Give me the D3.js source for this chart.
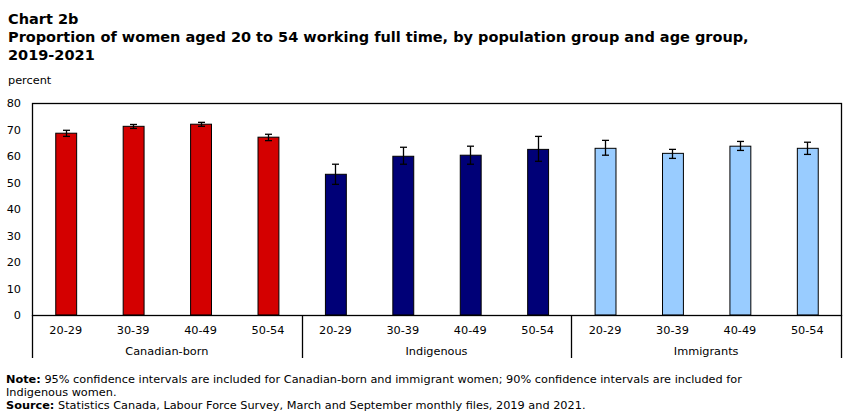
<!DOCTYPE html>
<html>
<head>
<meta charset="utf-8">
<script src="https://cdn.jsdelivr.net/npm/d3@7"></script>
<style>
  body { margin: 0; background: #fff; }
  svg { display: block; font-family: "DejaVu Sans", Verdana, sans-serif; }
</style>
</head>
<body>
<svg id="chart" width="851" height="417"></svg>
<script>
const groups = ["Canadian-born", "Indigenous", "Immigrants"];
const ages = ["20-29", "30-39", "40-49", "50-54"];
const groupColors = ["#d40000", "#000077", "#99ccff"];

// percent, in order of group then age group
const values = [68.6, 71.2, 72.0, 67.1, 53.1, 59.9, 60.3, 62.5, 62.9, 61.0, 63.7, 62.9];
const lower = [67.4, 70.4, 71.2, 65.8, 49.3, 56.9, 56.9, 58.0, 60.3, 59.1, 62.1, 60.6];
const upper = [69.7, 71.9, 72.7, 68.2, 56.9, 63.3, 63.7, 67.4, 65.9, 62.5, 65.5, 65.2];
const yTicks = [0, 10, 20, 30, 40, 50, 60, 70, 80];

const svg = d3.select("#chart");

const plotLeft = 32, plotRight = 841, plotTop = 103, plotBottom = 315;
const smallFont = 11.3;

const rows = [];
groups.forEach((g, gi) => {
    ages.forEach((a, ai) => {
        const i = gi * ages.length + ai;
        rows.push({ key: g + "|" + a, group: g, gi: gi, age: a, value: values[i], lo: lower[i], hi: upper[i] });
    });
});

const x = d3.scaleBand()
    .domain(rows.map(d => d.key))
    .range([plotLeft, plotRight])
    .paddingInner(0.69)
    .paddingOuter(0.345);

const y = d3.scaleLinear().domain([0, 80]).range([plotBottom, plotTop]);

// titles
const title = svg.append("g").attr("font-weight", "bold").attr("font-size", 14.5).attr("fill", "#000");
title.append("text").attr("x", 8).attr("y", 24).text("Chart 2b");
title.append("text").attr("x", 8).attr("y", 42)
    .text("Proportion of women aged 20 to 54 working full time, by population group and age group,");
title.append("text").attr("x", 8).attr("y", 59.5).text("2019-2021");

svg.append("text")
    .attr("x", 8).attr("y", 84)
    .attr("font-size", smallFont)
    .text("percent");

// y axis labels
svg.append("g")
    .selectAll("text")
    .data(yTicks)
    .join("text")
    .attr("x", 21)
    .attr("y", d => y(d) + 4)
    .attr("text-anchor", "end")
    .attr("font-size", smallFont)
    .text(d => d);

// bars
svg.append("g")
    .selectAll("rect")
    .data(rows)
    .join("rect")
    .attr("x", d => x(d.key) + 0.5)
    .attr("y", d => y(d.value))
    .attr("width", x.bandwidth())
    .attr("height", d => y(0) - y(d.value))
    .attr("fill", d => groupColors[d.gi])
    .attr("stroke", "#000")
    .attr("stroke-width", 1);

// error bars
const err = svg.append("g").attr("stroke", "#000").attr("stroke-width", 1.3);
rows.forEach(d => {
    const cx = Math.round(x(d.key) + x.bandwidth() / 2) + 0.5;
    err.append("line").attr("x1", cx).attr("x2", cx).attr("y1", y(d.hi)).attr("y2", y(d.lo));
    err.append("line").attr("x1", cx - 3.5).attr("x2", cx + 3.5).attr("y1", y(d.hi)).attr("y2", y(d.hi));
    err.append("line").attr("x1", cx - 3.5).attr("x2", cx + 3.5).attr("y1", y(d.lo)).attr("y2", y(d.lo));
});

// frame
const frame = svg.append("g").attr("stroke", "#000").attr("stroke-width", 1.3).attr("fill", "none");
frame.append("rect")
    .attr("x", plotLeft + 0.5).attr("y", plotTop + 0.5)
    .attr("width", plotRight - plotLeft).attr("height", plotBottom - plotTop);

// group separators, extending below the axis
const sepBottom = 358;
const groupEdges = groups.map((g, gi) => x(g + "|" + ages[0]) - x.step() * 0.345);
groupEdges.push(plotRight);
frame.selectAll("line.sep")
    .data(groupEdges)
    .join("line")
    .attr("class", "sep")
    .attr("x1", d => Math.round(d) + 0.5).attr("x2", d => Math.round(d) + 0.5)
    .attr("y1", plotBottom).attr("y2", sepBottom);

// category labels
svg.append("g")
    .selectAll("text")
    .data(rows)
    .join("text")
    .attr("x", d => x(d.key) + x.bandwidth() / 2)
    .attr("y", 334)
    .attr("text-anchor", "middle")
    .attr("font-size", smallFont)
    .text(d => d.age);

svg.append("g")
    .selectAll("text")
    .data(groups)
    .join("text")
    .attr("x", (d, i) => (groupEdges[i] + groupEdges[i + 1]) / 2)
    .attr("y", 355)
    .attr("text-anchor", "middle")
    .attr("font-size", smallFont)
    .text(d => d);

// notes
const notes = svg.append("g").attr("font-size", smallFont);
const n1 = notes.append("text").attr("x", 6).attr("y", 383);
n1.append("tspan").attr("font-weight", "bold").text("Note:");
n1.append("tspan").text(" 95% confidence intervals are included for Canadian-born and immigrant women; 90% confidence intervals are included for");
notes.append("text").attr("x", 6).attr("y", 396).text("Indigenous women.");
const n3 = notes.append("text").attr("x", 6).attr("y", 409);
n3.append("tspan").attr("font-weight", "bold").text("Source:");
n3.append("tspan").text(" Statistics Canada, Labour Force Survey, March and September monthly files, 2019 and 2021.");
</script>
</body>
</html>
